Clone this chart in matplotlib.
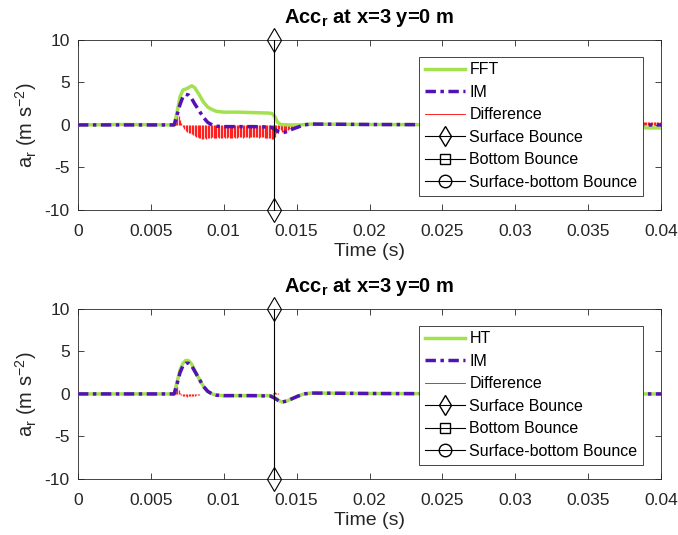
import numpy as np
import matplotlib
matplotlib.use('Agg')
import matplotlib.pyplot as plt
from matplotlib.lines import Line2D
from matplotlib.ticker import FuncFormatter

plt.rcParams['font.family'] = ['Liberation Sans', 'DejaVu Sans']
plt.rcParams['mathtext.fontset'] = 'custom'
plt.rcParams['mathtext.rm'] = 'Liberation Sans'
plt.rcParams['mathtext.it'] = 'Liberation Sans:italic'
plt.rcParams['mathtext.bf'] = 'Liberation Sans:bold'
plt.rcParams['axes.unicode_minus'] = False

# ---- data ----
surface_bounce_t = 0.01345

# top panel: FFT vs IM
t_fft_top = [0, 0.0030, 0.0066, 0.0068, 0.0070, 0.0072, 0.0075, 0.0078, 0.0080,
             0.0083, 0.0086, 0.0089, 0.0092, 0.0095, 0.0100, 0.0110, 0.0120,
             0.0130, 0.0133, 0.0135, 0.0137, 0.0139, 0.0145, 0.0152, 0.0160,
             0.0200, 0.0300, 0.0387, 0.0389, 0.0400]
fft_top = [0, 0.05, 0, 1.5, 3.3, 4.1, 4.3, 4.6, 4.4,
           3.6, 2.7, 2.1, 1.8, 1.6, 1.5, 1.5, 1.45,
           1.4, 1.35, 1.0, 0.3, 0.05, 0.0, 0.0, 0.1,
           0.05, 0.0, 0.0, -0.35, -0.35]

t_im = [0, 0.0066, 0.0068, 0.0070, 0.0072, 0.0074, 0.0076, 0.0078, 0.0080,
        0.0083, 0.0086, 0.0089, 0.0092, 0.0095, 0.0100, 0.0120, 0.0132,
        0.0135, 0.0138, 0.0140, 0.0143, 0.0147, 0.0151, 0.0155, 0.0160,
        0.0200, 0.0300, 0.0400]
im_top = [0, 0, 1.2, 2.4, 3.3, 3.6, 3.5, 3.1, 2.5,
          1.7, 0.9, 0.3, 0.0, -0.15, -0.2, -0.2, -0.25,
          -0.5, -0.85, -0.95, -0.8, -0.5, -0.25, 0.0, 0.1,
          0.05, 0.0, 0.0]

# bottom panel: HT vs IM
ht_bot = [0, 0, 1.4, 2.8, 3.6, 3.95, 3.9, 3.5, 2.8,
          1.8, 0.9, 0.3, 0.0, -0.15, -0.2, -0.2, -0.2,
          -0.45, -0.8, -0.95, -0.85, -0.55, -0.25, 0.0, 0.1,
          0.05, 0.0, 0.0]
im_bot = [0, 0, 1.2, 2.5, 3.3, 3.6, 3.6, 3.3, 2.7,
          1.8, 0.9, 0.3, 0.0, -0.15, -0.2, -0.2, -0.25,
          -0.5, -0.85, -0.95, -0.85, -0.55, -0.25, 0.0, 0.1,
          0.05, 0.0, 0.0]

# difference stems, sampled every 0.1 ms from 6.6 ms
diff_t0 = 0.0066
diff_dt = 0.0001
diff_top = [0.3, 0.8, 1.2, 1.0, 0.6, 0.2, -0.3, -0.5, -0.7, -0.8,
            -0.9, -1.0, -1.1, -1.2, -1.3, -1.4, -1.45, -1.5, -1.55, -1.6,
            -1.6, -1.55, -1.6, -1.55, -1.5,
            -1.5, -1.45, -1.55, -1.5, -1.5, -1.45, -1.5, -1.55, -1.5, -1.45,
            -1.5, -1.5, -1.45, -1.5, -1.55, -1.5, -1.45, -1.5, -1.5, -1.45,
            -1.4, -1.45, -1.5, -1.45, -1.4, -1.45, -1.5, -1.45, -1.4, -1.45,
            -1.45, -1.4, -1.45, -1.5, -1.45, -1.4, -1.45, -1.5, -1.5, -1.55,
            -1.5, -1.55, -1.6,
            -1.6, -1.4, -0.9,
            -0.6, -0.5, -0.6, -0.8, -0.85, -0.8, -0.7, -0.6, -0.5, -0.45,
            -0.35, -0.3, -0.2, -0.15, -0.1, -0.05]
diff_top_end_t0 = 0.0388
diff_top_end = [0.35, 0.35, 0.4, 0.35, 0.35, 0.4, 0.35, 0.35, 0.4, 0.35,
                0.35, 0.4, 0.35]
diff_bot = [0.3, 0.8, 0.9, 0.5, 0.1, -0.1, -0.2, -0.25, -0.3, -0.35,
            -0.3, -0.3, -0.25, -0.2, -0.2, -0.15, -0.1, -0.1, -0.05, -0.05,
            0.03, -0.03, 0.04, -0.02, 0.03, -0.04, 0.02, 0.03, -0.03, 0.04,
            -0.02, 0.03, 0.02, -0.03, 0.04, -0.02, 0.03, -0.03, 0.02, 0.04,
            -0.03, 0.02, 0.03, -0.02, 0.04, -0.03, 0.02, 0.03, -0.02, 0.03,
            -0.03, 0.04, -0.02, 0.03, 0.02, -0.03, 0.04, -0.02, 0.03, -0.03,
            0.02, 0.04, -0.03, 0.02, 0.03, -0.02, 0.04, -0.03, 0.1, 0.2,
            0.1, 0.05, 0.04, -0.03, 0.03, -0.02, 0.04, 0.03, -0.03, 0.02,
            0.03, -0.02, 0.03, 0.02, -0.02, 0.03, 0.02]

xticks = [0, 0.005, 0.01, 0.015, 0.02, 0.025, 0.03, 0.035, 0.04]
yticks = [-10, -5, 0, 5, 10]

GREEN = '#a3e24e'
PURPLE = '#5312b4'
DARK = '#262626'
IM_DASH = (3, 1.3, 1, 1.3)


def panel(ax, t_a, a_vals, a_name, t_b, b_vals, diffs):
    ax.plot(t_a, a_vals, color=GREEN, lw=2.5, zorder=3)
    ax.plot(t_b, b_vals, color=PURPLE, lw=2.5, dashes=IM_DASH, zorder=4)
    for t0, d in diffs:
        td = t0 + diff_dt * np.arange(len(d))
        ax.vlines(td, 0, d, color='#ff2020', lw=0.9, zorder=2)
    ax.plot([surface_bounce_t, surface_bounce_t], [-10, 10], color='black',
            lw=0.8, marker='d', ms=12, mfc='none', mec='black', mew=0.8,
            clip_on=False, zorder=5)

    ax.set_xlim(0, 0.04)
    ax.set_ylim(-10, 10)
    ax.set_xticks(xticks)
    ax.set_yticks(yticks)
    ax.xaxis.set_major_formatter(FuncFormatter(lambda v, p: f'{v:g}'))
    ax.tick_params(direction='in', top=True, right=True, length=4,
                   width=0.6, colors=DARK, labelsize=12.5)
    ax.tick_params(axis='x', pad=10)
    ax.tick_params(axis='y', pad=6)
    for s in ax.spines.values():
        s.set_color(DARK)
        s.set_linewidth(0.6)
    ax.set_xlabel('Time (s)', fontsize=14, color=DARK, labelpad=3)
    ax.set_ylabel(r'a$_\mathrm{r}$ (m s$^\mathrm{-2}$)', fontsize=14.5,
                  color=DARK, labelpad=4)
    ax.set_title(r'Acc$_\mathbf{r}$ at x=3 y=0 m', fontsize=14.5,
                 fontweight='bold', pad=12)

    handles = [
        Line2D([], [], color=GREEN, lw=2.5),
        Line2D([], [], color=PURPLE, lw=2.5, dashes=IM_DASH),
        Line2D([], [], color='red', lw=0.6),
        Line2D([], [], color='black', lw=0.8, marker='d', ms=10, mfc='none'),
        Line2D([], [], color='black', lw=0.8, marker='s', ms=7, mfc='none'),
        Line2D([], [], color='black', lw=0.8, marker='o', ms=9, mfc='none'),
    ]
    labels = [a_name, 'IM', 'Difference', 'Surface Bounce', 'Bottom Bounce',
              'Surface-bottom Bounce']
    leg = ax.legend(handles, labels, loc='upper left',
                    bbox_to_anchor=(0.585, 0.9), borderaxespad=0,
                    fontsize=11.5, frameon=True, fancybox=False,
                    framealpha=1, edgecolor=DARK, handlelength=2.5,
                    handletextpad=0.3, labelspacing=0.47, borderpad=0.35)
    leg.get_frame().set_linewidth(0.6)
    leg.set_zorder(10)


fig = plt.figure(figsize=(6.78, 5.35), dpi=100)
ax1 = fig.add_axes([0.115, 0.6075, 0.86, 0.318])
ax2 = fig.add_axes([0.115, 0.1047, 0.86, 0.318])

panel(ax1, t_fft_top, fft_top, 'FFT', t_im, im_top,
      [(diff_t0, diff_top), (diff_top_end_t0, diff_top_end)])
panel(ax2, t_im, ht_bot, 'HT', t_im, im_bot, [(diff_t0, diff_bot)])

fig.savefig('out.png', dpi=100)
